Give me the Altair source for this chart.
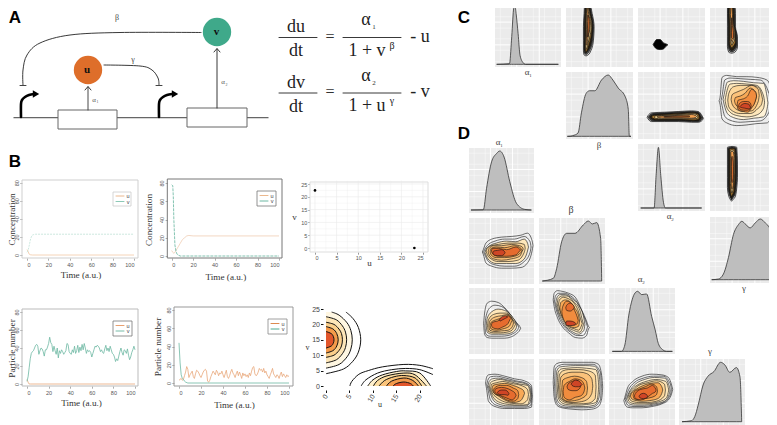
import altair as alt
import pandas as pd

M = 8
CX = alt.Scale(domain=[0, 777], range=[-M, 777 - M], nice=False, zero=False)
CY = alt.Scale(domain=[0, 425], range=[-M, 425 - M], nice=False, zero=False)
SERIF = "Liberation Serif"
SANS = "Liberation Sans"
layers = []

# ---------- time-course data ----------
B1_U_T = [0, 1, 2, 3, 5, 100]
B1_U = [6, 4, 1, 0.3, 0, 0]
B1_V_T = [0, 1, 2, 3, 4, 5, 6, 8, 100]
B1_V = [3, 5, 10, 16, 20, 22, 22.5, 23, 23]
B2_U_T = [0, 1, 2, 3, 4, 6, 8, 10, 12, 14, 16, 20, 100]
B2_U = [6, 4, 3, 4, 6, 10, 14, 18, 20, 22, 22.5, 22, 22]
B2_V_T = [0, 1, 1.5, 2, 3, 4, 5, 6, 8, 100]
B2_V = [78, 77, 65, 40, 12, 5, 2, 1, 0, 0]
B3_U = [0, 23]
B3_V = [22.5, 0]
B4_U_T = [0, 1, 2, 3, 100]
B4_U = [5, 2, 0, 0, 0]
B4_V = [3, 8, 18, 28, 34, 36, 37, 40, 43, 44, 42, 33, 37, 40, 39, 36, 31, 38, 38, 41, 45, 52, 46, 44, 36, 42,
        37, 33, 40, 29, 37, 34, 38, 36, 33, 35, 37, 45, 44, 36, 34, 33, 38, 35, 42, 34, 37, 43, 35, 41, 37, 44,
        38, 45, 40, 34, 38, 36, 37, 35, 30, 34, 38, 42, 41, 43, 42, 40, 36, 38, 35, 34, 39, 43, 37, 40, 36, 42,
        38, 34, 33, 30, 25, 28, 26, 31, 36, 40, 35, 32, 38, 37, 34, 39, 32, 27, 30, 35, 38, 42, 38]
B5_U = [3, 4, 5, 3, 4, 8, 12, 18, 15, 6, 9, 11, 13, 7, 5, 10, 14, 13, 11, 8, 6, 9, 12, 14, 15, 13, 2, 1, 3, 7,
        10, 13, 11, 9, 14, 12, 8, 11, 10, 13, 9, 6, 10, 14, 7, 5, 8, 12, 15, 11, 9, 6, 10, 13, 8, 12, 9, 5, 11,
        8, 10, 7, 9, 6, 11, 8, 13, 17, 18, 10, 8, 9, 12, 16, 14, 15, 12, 16, 11, 13, 9, 7, 5, 9, 12, 16, 10, 8,
        6, 9, 8, 5, 9, 12, 7, 10, 8, 6, 9, 7, 8]
B5_V_T = [0, 1, 2, 3, 4, 5, 6, 8, 100]
B5_V = [44, 22, 9, 5, 4, 2, 1, 0, 0]

# ---------- densities (percent of panel) ----------
D_C_A1 = ([2.5, 22, 25, 28, 30, 32, 35, 38, 43, 46, 96], [4, 5, 40, 85, 95, 80, 50, 17, 6, 4, 4])
D_C_B = ([2, 4.5, 10, 18, 23, 30, 35, 43, 53, 63, 70, 78, 88, 93, 94.5, 97],
         [4, 4, 5, 9, 39, 68, 72, 72, 88, 95.5, 88, 76, 64, 44, 4, 4])
D_C_A2 = ([4, 24, 27, 30.5, 34, 38, 41, 95], [4.5, 4.5, 53, 95, 53, 13, 4.5, 4.5])
D_C_G = ([2.5, 12.5, 20, 27.5, 35, 42.5, 47.5, 53.5, 60, 67.5, 75, 82.5, 90, 92.5, 94, 96],
         [5, 6, 13.5, 38.5, 73.5, 88.5, 93.5, 88.5, 83.5, 91, 97, 91, 81, 73, 5, 5])
D_D_A1 = ([3, 22, 27, 34.7, 42.3, 47.4, 54, 62.8, 73, 85.7, 96], [4.6, 5, 38, 78.7, 91.4, 95.4, 86, 48, 15, 5.6, 4.6])
D_D_B = ([5, 21.7, 26.8, 34.3, 42, 54.5, 67, 74.7, 80.8, 87.4, 93.4, 95],
         [4.5, 8.6, 23.7, 64, 76.8, 76.8, 89.4, 95.5, 91, 93, 69, 4.5])
D_D_A2 = ([5, 19, 24, 30, 35, 39.4, 43.4, 49.5, 57, 64.6, 70, 74.7, 82, 87, 96],
          [4, 4, 13.7, 59, 82, 92.4, 95, 90, 91, 57, 36.5, 16, 6, 4, 4])
D_D_G = ([4.6, 18.8, 24, 29, 36.5, 44, 53, 63, 69.5, 77, 87, 92.4, 95],
         [5, 6.5, 13, 30, 60.6, 74, 81, 95, 91, 79.8, 87, 73, 5])

# ---------- contour rings (t, low edge, high edge; percent of panel) ----------
C_A1_B = [
    ([18, 24, 40, 60, 80, 95], [27, 26, 26, 26, 27, 28], [33, 37, 41, 42, 39, 35]),
    ([20, 26, 42, 60, 80, 94], [28, 27, 27, 27, 28, 29], [32, 36, 40, 41, 38, 34.5]),
    ([22, 28, 45, 62, 80, 93], [28.5, 27.5, 28, 28, 28.5, 29.5], [31, 35, 39, 40, 37, 34]),
    ([24, 32, 48, 64, 80, 92], [29, 28.5, 29, 29, 29.5, 30], [31, 34, 38, 39, 36, 33.5]),
    ([28, 36, 52, 66, 80, 90], [29.5, 29.5, 30, 30, 30.5, 31], [31, 33, 37, 38, 35, 33]),
    ([34, 42, 56, 68, 78, 88], [30, 30.5, 31, 31, 31.5, 31.5], [31.5, 32.5, 35.5, 36.5, 34, 32.5]),
    ([46, 58, 68, 76], [32, 32, 32.5, 32.5], [33, 34.5, 35, 33.5]),
]
C_A1_A2 = [
    ([24, 28, 33, 38, 43], [31, 27, 26, 27, 32], [36, 41, 41, 36, 34]),
]
C_A1_G = [
    ([22, 30, 45, 60, 80, 95], [28, 26, 26, 26, 26, 26], [37, 41, 41, 38, 38, 37]),
    ([24, 32, 46, 62, 80, 94], [29, 27, 27, 27, 26.5, 27], [36, 40, 40, 37, 37, 36]),
    ([26, 34, 48, 64, 80, 93], [30, 28, 28, 28, 27.5, 28], [35, 39, 39, 36, 36, 35]),
    ([30, 38, 50, 66, 80, 92], [31, 29, 29, 29, 28.5, 29], [34, 38, 38, 35, 35, 34]),
    ([34, 42, 52, 68, 80, 90], [32, 30, 30, 30, 29.5, 30], [33.5, 37, 37, 34.5, 34, 33.5]),
    ([38, 46, 54, 68, 78, 88], [32.5, 31, 31, 31, 30.5, 31], [33.5, 36, 36, 34, 33.5, 33]),
    ([44, 52, 62, 72], [32, 32, 32, 32], [35, 35, 33.5, 33]),
]
C_B_A2 = [
    ([15, 20, 40, 60, 80, 90, 96], [30, 26, 26, 26, 25, 25, 28], [35, 39, 40, 41, 42, 41, 34]),
    ([17, 22, 40, 60, 80, 90, 95], [30, 27, 27, 27, 26, 26, 29], [35, 38, 39, 40, 41, 40, 34]),
    ([19, 25, 42, 62, 80, 90, 93], [30.5, 28, 28, 28, 27, 27, 29.5], [35, 37, 38, 39, 40, 39, 34]),
    ([22, 30, 45, 64, 82, 90], [31, 29, 29, 29, 28, 29], [35, 36, 37, 38, 39, 37]),
    ([26, 35, 50, 66, 82, 88], [31, 30, 30, 30, 30, 30.5], [34.5, 35, 36, 37, 38, 36]),
    ([30, 40, 54, 68, 80, 86], [32, 31, 31, 31, 31, 32], [34, 34.5, 35, 36, 36.5, 35]),
    ([40, 52, 64, 76], [32.5, 32.5, 32.5, 33], [33.5, 34, 34.5, 34.5]),
]
C_B_G = [
    ([15, 18, 25, 40, 55, 70, 85, 92], [52, 30, 24, 20, 21, 23, 24, 35], [62, 92, 95, 93, 93, 92, 88, 70]),
    ([18, 22, 30, 45, 60, 75, 88], [50, 34, 28, 25, 26, 27, 40], [64, 88, 91, 90, 89, 88, 68]),
    ([21, 26, 35, 50, 65, 80, 85], [52, 38, 32, 29, 31, 33, 44], [66, 85, 87, 86, 84, 83, 64]),
    ([24, 30, 40, 55, 70, 80], [50, 40, 35, 33, 36, 46], [66, 82, 83, 82, 80, 64]),
    ([28, 35, 45, 60, 72, 77], [48, 41, 38, 38, 46, 52], [68, 78, 80, 80, 77, 66]),
    ([33, 40, 50, 62, 72], [52, 44, 41, 42, 56], [66, 70, 74, 80, 74]),
    ([38, 45, 52, 60, 68], [52, 46, 44, 46, 58], [62, 64, 68, 76, 70]),
    ([42, 50, 56, 62, 68], [44, 41, 40, 46, 58], [58, 60, 64, 74, 70]),
    ([44, 50, 56, 60], [45, 43, 43, 45], [53, 56, 56, 54]),
    ([46, 52, 58, 60], [47, 46, 45, 46], [50, 53, 52, 48]),
]
C_A2_G = [
    ([16, 22, 35, 50, 70, 95], [31, 28, 26, 26, 26, 26], [33.5, 38, 40, 41, 41, 40]),
    ([18, 24, 36, 52, 72, 94], [31.5, 29, 27, 27, 27, 27], [33, 37, 39, 40, 40, 39]),
    ([20, 26, 38, 54, 74, 93], [31.5, 29.5, 28, 28, 28, 28], [33, 36.5, 38, 39, 39, 38]),
    ([23, 30, 42, 56, 76, 92], [31.5, 30, 29, 29, 29, 29], [33, 36, 37, 38, 38, 37]),
    ([28, 36, 46, 58, 78, 90], [32, 31, 30, 30, 30, 30], [33.5, 35, 36, 37, 37, 36]),
    ([34, 42, 50, 60, 78, 88], [32, 31.5, 31, 31, 31, 31], [34, 35, 35.5, 36, 36, 35]),
    ([44, 54, 66, 80], [32, 32, 32, 32], [34, 35, 35, 34]),
]
D_B_A1 = [
    ([22, 26, 35, 50, 65, 80, 90, 97], [45, 32, 27, 24, 24, 25, 32, 50], [52, 62, 68, 71, 72, 74, 77, 66]),
    ([24, 30, 40, 55, 70, 85, 94], [45, 34, 29, 27, 27, 34, 48], [52, 60, 65, 68, 68, 72, 64]),
    ([26, 32, 42, 58, 72, 85, 90], [44, 35, 31, 31, 31, 38, 50], [52, 58, 62, 65, 64, 68, 62]),
    ([28, 34, 45, 60, 75, 85], [45, 38, 34, 34, 36, 48], [54, 58, 60, 62, 62, 60]),
    ([31, 38, 50, 65, 78, 82], [44, 38, 36, 38, 42, 50], [54, 58, 58, 60, 58, 56]),
    ([34, 42, 55, 70, 80], [44, 40, 40, 42, 48], [54, 56, 55, 58, 54]),
    ([36, 45, 58, 72, 78], [46, 42, 42, 44, 50], [54, 54, 52, 56, 53]),
    ([38, 44, 50, 54], [44, 43, 43, 45], [50, 51, 52, 50]),
]
D_A2_A1 = [
    ([24, 28, 35, 45, 55, 65, 72, 78], [30, 25, 24, 24, 24, 26, 30, 36], [62, 77, 80, 78, 70, 58, 48, 42]),
    ([26, 32, 40, 50, 60, 68, 75], [30, 27, 27, 27, 28, 31, 37], [56, 70, 74, 72, 64, 54, 44]),
    ([28, 35, 45, 55, 65, 72], [33, 30, 30, 30, 32, 38], [54, 64, 68, 66, 58, 47]),
    ([30, 38, 48, 58, 66, 70], [34, 32, 32, 33, 36, 42], [52, 60, 62, 62, 54, 48]),
    ([32, 40, 50, 60, 67], [36, 34, 35, 36, 42], [50, 56, 58, 60, 52]),
    ([34, 42, 52, 62, 65], [38, 36, 38, 42, 48], [48, 52, 55, 58, 54]),
    ([36, 44, 52, 60, 63], [40, 38, 41, 46, 52], [48, 50, 54, 58, 56]),
    ([48, 52, 56, 58], [50, 52, 54, 55], [54, 57, 58, 57]),
]
D_A2_B = [
    ([23, 28, 35, 45, 55, 65, 72, 75], [72, 55, 42, 32, 25, 24, 28, 38], [92, 96, 95, 92, 86, 66, 50, 42]),
    ([25, 30, 38, 48, 58, 66, 72], [72, 56, 42, 33, 28, 28, 36], [88, 92, 92, 88, 78, 62, 46]),
    ([27, 32, 40, 50, 60, 68], [70, 56, 42, 34, 30, 36], [85, 90, 90, 84, 74, 54]),
    ([29, 35, 42, 52, 62, 66], [68, 54, 42, 36, 33, 40], [84, 88, 88, 80, 66, 50]),
    ([31, 37, 44, 54, 60, 64], [68, 54, 42, 38, 36, 42], [82, 86, 84, 76, 64, 50]),
    ([33, 40, 46, 54, 60], [62, 50, 42, 40, 42], [78, 82, 80, 70, 58]),
    ([36, 42, 48, 54, 58], [56, 46, 44, 44, 46], [72, 80, 78, 66, 56]),
    ([42, 47, 52], [66, 65, 68], [74, 77, 74]),
    ([42, 47, 54], [43, 43, 44], [50, 50, 48]),
]
D_G_A1 = [
    ([27, 30, 40, 55, 70, 85, 96], [55, 36, 28, 25, 25, 25, 27], [72, 76, 77, 74, 70, 67, 60]),
    ([29, 33, 42, 57, 72, 86, 95], [55, 38, 30, 27, 27, 27, 30], [68, 73, 74, 71, 67, 64, 58]),
    ([31, 36, 45, 60, 75, 88, 94], [54, 40, 32, 29, 29, 29, 34], [66, 70, 71, 68, 65, 62, 56]),
    ([33, 38, 48, 62, 78, 90, 93], [52, 41, 34, 31, 30, 31, 38], [64, 67, 69, 66, 62, 60, 54]),
    ([35, 42, 52, 65, 80, 90], [50, 42, 36, 33, 32, 38], [62, 64, 66, 63, 60, 54]),
    ([37, 45, 55, 68, 78, 84], [50, 44, 38, 34, 36, 44], [60, 62, 63, 60, 56, 52]),
    ([39, 48, 58, 68, 75], [48, 44, 38, 36, 40], [56, 60, 60, 56, 52]),
    ([41, 50, 60, 66, 71], [48, 44, 40, 38, 42], [55, 57, 55, 52, 48]),
    ([45, 50, 55, 60], [47, 46, 46, 45], [51, 53, 53, 50]),
]
D_G_B = [
    ([23, 27, 35, 50, 65, 80, 90, 95], [42, 30, 26, 24, 23, 24, 28, 40], [88, 93, 95, 95, 95, 95, 92, 75]),
    ([25, 30, 38, 52, 68, 82, 93], [40, 30, 27, 26, 26, 27, 38], [85, 90, 92, 92, 92, 92, 80]),
    ([27, 32, 40, 55, 70, 84, 91], [40, 32, 29, 28, 28, 30, 42], [82, 88, 89, 90, 90, 89, 78]),
    ([29, 34, 42, 58, 72, 86, 89], [42, 34, 31, 30, 31, 34, 42], [80, 85, 86, 87, 86, 84, 76]),
    ([31, 36, 45, 60, 75, 85], [42, 36, 33, 32, 33, 40], [76, 82, 84, 84, 82, 76]),
    ([33, 40, 50, 62, 72, 80], [42, 36, 34, 35, 38, 48], [72, 78, 80, 80, 78, 70]),
    ([36, 44, 54, 64, 72], [40, 36, 37, 40, 46], [68, 72, 74, 72, 66]),
    ([38, 46, 55, 63, 68], [42, 38, 42, 44, 50], [60, 66, 70, 68, 62]),
    ([44, 50, 56, 62], [54, 52, 52, 56], [62, 66, 68, 64]),
    ([50, 55, 60, 64], [60, 58, 58, 60], [64, 68, 67, 63]),
]
D_G_A2 = [
    ([24, 28, 36, 50, 65, 80, 90, 95], [32, 27, 26, 26, 28, 32, 38, 48], [42, 56, 66, 74, 77, 76, 72, 60]),
    ([26, 30, 38, 52, 67, 82, 93], [34, 29, 28, 28, 30, 34, 46], [44, 54, 64, 71, 74, 74, 62]),
    ([28, 33, 40, 54, 69, 84, 91], [35, 31, 30, 30, 32, 36, 46], [44, 54, 62, 69, 72, 71, 60]),
    ([30, 35, 42, 56, 71, 86, 89], [36, 33, 32, 32, 34, 40, 46], [46, 54, 60, 66, 69, 66, 60]),
    ([32, 38, 45, 58, 72, 84], [38, 35, 34, 34, 36, 44], [46, 54, 60, 64, 67, 62]),
    ([34, 41, 50, 62, 74, 80], [40, 37, 36, 37, 40, 48], [48, 54, 59, 63, 64, 58]),
    ([38, 45, 55, 65, 72], [40, 38, 40, 42, 46], [50, 54, 58, 62, 58]),
    ([40, 48, 58, 66, 70], [40, 38, 42, 48, 50], [48, 54, 56, 60, 56]),
    ([47, 52, 57], [41, 40, 41], [46, 48, 46]),
]
# B6: u and v units
B6_LEFT = [
    ([4, 5.5, 8, 11, 15, 19, 22, 24], [0, 3.7, 5.7, 6.9, 7.4, 6.9, 5.7, 4.25]),
    ([5.8, 7, 9.5, 12, 15, 18, 20.5, 23, 24], [0, 2.8, 4.5, 5.3, 5.6, 5.3, 4.5, 2.8, 1.2]),
    ([7.5, 8.5, 10.5, 12.5, 15, 17.5, 19.5, 21.5, 22.5], [0, 2.2, 3.5, 4.15, 4.4, 4.15, 3.5, 2.2, 0]),
    ([9.3, 10, 11.5, 13, 15, 17, 18.5, 20, 20.7], [0, 1.7, 2.76, 3.3, 3.5, 3.3, 2.76, 1.7, 0]),
    ([10.7, 11.5, 13, 15, 17, 18.5, 19.3], [0, 1.5, 2.3, 2.6, 2.3, 1.5, 0]),
    ([12.3, 13, 14, 15, 16, 17, 17.7], [0, 1.14, 1.58, 1.7, 1.58, 1.14, 0]),
]
B6_RIGHT = [
    ([5.1, 5.5, 7, 9, 12, 16.6, 20, 22.8], [0, 1.5, 3.8, 5, 6.2, 7, 6.7, 5.6]),
    ([7.5, 8.5, 11, 14, 17, 20, 22.8], [0, 2, 4.2, 5.3, 5.7, 5.3, 3.7]),
    ([8.9, 10, 12, 15, 17, 20, 22.3], [0, 2, 3.6, 4.7, 4.9, 4.2, 0]),
    ([10.1, 11, 13, 16.6, 19, 21.4], [0, 1.8, 3.3, 4.2, 3.6, 0]),
    ([11.3, 12.5, 14.5, 16.6, 19, 20.4], [0, 1.8, 3, 3.4, 2.6, 0]),
    ([12.9, 14, 16.6, 18.5, 19.7], [0, 1.6, 2.6, 1.8, 0]),
    ([14.3, 15, 16.6, 18, 18.6], [0, 0.8, 1.3, 0.8, 0]),
]
PALETTE = ["transparent", "transparent", "#FFF3D8", "#FEE7BA", "#FDD79A", "#FBC27A", "#F8A956", "#F18C3E", "#E66B2E", "#CF4526"]
NARROW = ["#CCCCCC", "#555555", "#2A2010", "#A87830", "#F5D590", "#F2A050", "#D97030"]
B6_PAL_L = ["transparent", "#FFF7E2", "#FDE6B8", "#FBCF8B", "#F59B4A", "#E2562B"]
B6_PAL_R = ["transparent", "transparent", "#FFF0CC", "#FDDDA0", "#FBC47A", "#F39A4C", "#E2562B"]
X_TICKS = [0, 20, 40, 60, 80, 100]
Y_TICKS = [0, 20, 40, 60, 80]
CLOSE_GAP = 1.5


def cs(lo, hi, r0, r1):
    return alt.Scale(domain=[lo, hi], range=[r0 - M, r1 - M], nice=False, zero=False)


def xy(box, dom=(0, 100, 0, 100)):
    x0, x1, yt, yb = box
    return cs(dom[0], dom[1], x0, x1), cs(dom[2], dom[3], yb, yt)


def c_line(xs, ys, color="#222", width=1.0, interp="linear", dash=None, opacity=1.0):
    kw = dict(color=color, strokeWidth=width, interpolate=interp, opacity=opacity, strokeCap="round")
    if dash:
        kw["strokeDash"] = dash
    df = pd.DataFrame({"x": xs, "y": ys, "i": range(len(xs))})
    layers.append(alt.Chart(df).mark_line(**kw).encode(
        x=alt.X("x:Q", scale=CX, axis=None), y=alt.Y("y:Q", scale=CY, axis=None), order="i:Q"))


def c_rect(x0, x1, y0, y1, fill="white", stroke="#777", width=1.0):
    df = pd.DataFrame({"x": [x0], "x2": [x1], "y": [y0], "y2": [y1]})
    layers.append(alt.Chart(df).mark_rect(fill=fill, stroke=stroke, strokeWidth=width).encode(
        x=alt.X("x:Q", scale=CX, axis=None), x2="x2:Q", y=alt.Y("y:Q", scale=CY, axis=None), y2="y2:Q"))


def c_text(s, x, y, size=10, font=SERIF, color="#222", weight="normal", angle=0):
    df = pd.DataFrame({"x": [x], "y": [y]})
    layers.append(alt.Chart(df).mark_text(text=s, fontSize=size, font=font, color=color, fontWeight=weight,
                                          angle=angle, align="center", baseline="middle").encode(
        x=alt.X("x:Q", scale=CX, axis=None), y=alt.Y("y:Q", scale=CY, axis=None)))


def c_circle(x, y, r, color):
    df = pd.DataFrame({"x": [x], "y": [y]})
    layers.append(alt.Chart(df).mark_point(filled=True, size=3.14159 * r * r, color=color, opacity=1).encode(
        x=alt.X("x:Q", scale=CX, axis=None), y=alt.Y("y:Q", scale=CY, axis=None)))


def c_tri(x, y, size):
    df = pd.DataFrame({"x": [x], "y": [y]})
    layers.append(alt.Chart(df).mark_point(filled=True, size=size, color="black", opacity=1, shape="triangle-right").encode(
        x=alt.X("x:Q", scale=CX, axis=None), y=alt.Y("y:Q", scale=CY, axis=None)))


AX = dict(labelFontSize=5.5, labelColor="#555", labelFont=SANS, tickColor="#777", tickSize=2.2, tickWidth=0.6,
          domain=False, grid=False, titleFont=SERIF, titleFontWeight="normal", titleColor="#333", titleBaseline="middle")


def trace_panel(box, xr, yr, frame, ylabel, title_x, title_y, u, v, ucol, vcol, vdash=None, uw=0.8, vw=0.8):
    """box=frame px; xr=(px of 0, px of 100); yr=(px of 0, px of 80)"""
    sx = cs(0, 100, xr[0], xr[1])
    sy = cs(0, 80, yr[0], yr[1])
    axx = alt.Axis(orient="bottom", offset=-(425 - box[3]), values=X_TICKS, title="Time (a.u.)", titleFontSize=9.2,
                   titleY=title_y, labelPadding=2, labelAngle=0, **AX)
    axy = alt.Axis(orient="left", offset=-(box[0] - M), values=Y_TICKS, title=ylabel, titleFontSize=9.2, titleX=title_x,
                   labelPadding=0.5, labelAngle=-90, labelAlign="center", labelBaseline="bottom", **AX)
    first = True
    for (ts, vals, col, w, dash) in [(u[0], u[1], ucol, uw, None), (v[0], v[1], vcol, vw, vdash)]:
        kw = dict(color=col, strokeWidth=w)
        if dash:
            kw["strokeDash"] = dash
        df = pd.DataFrame({"t": ts, "val": vals})
        layers.append(alt.Chart(df).mark_line(**kw).encode(
            x=alt.X("t:Q", scale=sx, axis=axx if first else None),
            y=alt.Y("val:Q", scale=sy, axis=axy if first else None)))
        first = False
    c_rect(box[0], box[1], box[2], box[3], fill="transparent", stroke=frame, width=1)


def legend(x0, x1, y0, y1, ucol, vcol, frame):
    c_rect(x0, x1, y0, y1, fill="white", stroke=frame, width=0.8)
    midy = (y0 + y1) / 2
    c_line([x0 + 3, x0 + 11], [midy - 3, midy - 3], ucol, 1)
    c_line([x0 + 3, x0 + 11], [midy + 2.5, midy + 2.5], vcol, 1)
    c_text("u", x0 + 15, midy - 3, size=5.5, font=SANS, color="#444")
    c_text("v", x0 + 15, midy + 2.5, size=5.5, font=SANS, color="#444")


def bg(box):
    sx, sy = xy(box)
    df = pd.DataFrame({"a": [0], "b": [100], "c": [0], "d": [100]})
    layers.append(alt.Chart(df).mark_rect(fill="#EBEBEB").encode(
        x=alt.X("a:Q", scale=sx, axis=None), x2="b:Q", y=alt.Y("c:Q", scale=sy, axis=None), y2="d:Q"))
    for vals, w in (([8, 25, 42, 58, 75, 92], 0.4), ([33, 67], 1.0)):
        d1 = pd.DataFrame({"p": vals, "a": [0] * len(vals), "b": [100] * len(vals)})
        layers.append(alt.Chart(d1).mark_rule(color="white", strokeWidth=w).encode(
            x=alt.X("p:Q", scale=sx, axis=None), y=alt.Y("a:Q", scale=sy, axis=None), y2="b:Q"))
        layers.append(alt.Chart(d1).mark_rule(color="white", strokeWidth=w).encode(
            y=alt.Y("p:Q", scale=sy, axis=None), x=alt.X("a:Q", scale=sx, axis=None), x2="b:Q"))


def density(box, d):
    bg(box)
    sx, sy = xy(box)
    df = pd.DataFrame({"x": d[0], "y": d[1], "b": [min(d[1])] * len(d[0])})
    layers.append(alt.Chart(df).mark_area(fill="#BEBEBE", stroke="#333", strokeWidth=0.8, interpolate="monotone").encode(
        x=alt.X("x:Q", scale=sx, axis=None), y=alt.Y("y:Q", scale=sy, axis=None), y2="b:Q"))


def ring_frame(rings, pal=None, close=False):
    rows = []
    n = len(rings)
    for i, (t, lo, hi) in enumerate(rings):
        if pal is not None:
            col = pal[round(i * (len(pal) - 1) / (n - 1))] if n > 1 else "black"
        else:
            col = PALETTE[round(i * 9 / (n - 1))] if n > 1 else "black"
        pts = list(zip(t, lo, hi))
        if close:
            m0 = (lo[0] + hi[0]) / 2
            m1 = (lo[-1] + hi[-1]) / 2
            pts = [(t[0] - CLOSE_GAP, m0, m0)] + pts + [(t[-1] + CLOSE_GAP, m1, m1)]
        for a, b, c in pts:
            rows.append({"t": a, "lo": b, "hi": c, "ring": i, "fill": col})
    return pd.DataFrame(rows)


def contour(box, rings, orient="vertical", sw=0.6, pal=None):
    bg(box)
    sx, sy = xy(box)
    df = ring_frame(rings, pal, close=True)
    m = alt.Chart(df).mark_area(orient=orient, interpolate="monotone", stroke="#111", strokeWidth=sw)
    if orient == "vertical":
        enc = dict(x=alt.X("t:Q", scale=sx, axis=None), y=alt.Y("lo:Q", scale=sy, axis=None), y2="hi:Q")
    else:
        enc = dict(y=alt.Y("t:Q", scale=sy, axis=None), x=alt.X("lo:Q", scale=sx, axis=None), x2="hi:Q")
    layers.append(m.encode(detail="ring:N", fill=alt.Fill("fill:N", scale=None), **enc))


# ================= A: diagram =================
c_text("A", 15, 18, size=17, font=SANS, weight="bold", color="black")
c_line([14, 268], [117.7, 117.7], "#666", 1.3)
c_rect(58, 117, 110, 129, stroke="#666", width=1)
c_rect(187, 247, 108, 127, stroke="#666", width=1)
c_line([88, 88], [110, 87], "#333", 0.9)
c_line([85, 88, 91], [90, 86.5, 90], "#222", 0.9)
c_line([217, 217], [108, 49], "#222", 0.9)
c_line([214, 217, 220], [52, 48.5, 52], "#222", 0.9)
c_line([201, 120, 70, 40, 27, 23, 23], [32.5, 32.5, 35, 43, 55, 70, 85], "#222", 0.9, "cardinal")
c_line([20, 26], [85.5, 85.5], "#444", 1)
c_line([104, 140, 152, 158, 159], [65, 66, 70, 78, 85], "#222", 0.9, "cardinal")
c_line([156, 162], [85.5, 85.5], "#444", 1)
c_circle(88, 70, 16, "#DE6E2A")
c_circle(217, 32, 16, "#3FA98A")
c_text("u", 87, 70, size=11, weight="bold", color="#111")
c_text("v", 216.5, 32, size=11, weight="bold", color="#111")
c_text("β", 117, 18, size=8, color="#444")
c_text("γ", 133, 60, size=8, color="#444")
c_text("α", 94, 99.5, size=7, color="#555")
c_text("1", 97.5, 102, size=4, color="#555")
c_text("α", 223, 82, size=7, color="#555")
c_text("2", 226.5, 84.5, size=4, color="#555")
c_line([21, 21, 22, 25, 29, 34], [117, 104, 100, 97, 95, 94], "black", 2.6, "cardinal")
c_tri(36, 94, 55)
c_line([159, 159, 160, 163, 167, 172], [117, 104, 100, 97, 95, 94], "black", 2.6, "cardinal")
c_tri(175, 94, 55)
# equations
for yf, t1, t2, top, sub, den, sup, tail in [(37.5, "du", "dt", 20, "1", "1 + v", "β", "- u"), (93, "dv", "dt", 75.5, "2", "1 + u", "γ", "- v")]:
    c_line([279, 317], [yf, yf], "#222", 0.9)
    c_line([343, 401], [yf, yf], "#222", 0.9)
    c_text(t1, 296, yf - 10.5, size=18, color="#222")
    c_text(t2, 296, yf + 13.5, size=18, color="#222")
    c_text("=", 330, yf - 1, size=16, color="#333")
    c_text("α", 366, top, size=18, color="#222")
    c_text(sub, 374, top + 7, size=7, color="#333")
    c_text(den, 367, yf + 13, size=18, color="#222")
    c_text(sup, 392, yf + 8, size=10, color="#222")
    c_text(tail, 420, yf - 1, size=18, color="#222")

# ================= B: panels =================
c_text("B", 15, 162, size=17, font=SANS, weight="bold", color="black")
UL, VL = "#F3C9A6", "#BFE2D7"
trace_panel((22, 138, 180, 258), (27, 134), (255, 182.7), "#CFCFCF", "Concentration", -10.5, 16, (B1_U_T, B1_U), (B1_V_T, B1_V), UL, VL, vdash=[2, 1])
legend(113, 131, 192, 206, "#EBB88E", "#8CC9B6", "#CCCCCC")
trace_panel((167.3, 282, 179, 258), (171.7, 279), (256, 183), "#777777", "Concentration", -19.3, 18, (B2_U_T, B2_U), (B2_V_T, B2_V), "#F0CDB4", "#63B49D", vdash=[3, 1])
legend(257, 276, 191, 206, "#EBB88E", "#6DB8A3", "#777777")
trace_panel((22, 138, 309, 386), (27, 135), (384, 312), "#BBBBBB", "Particle number", -10.5, 16, (B4_U_T, B4_U), (list(range(len(B4_V))), B4_V), "#E9A77A", "#6CB7A2")
legend(113, 132, 321, 336, "#E8A070", "#76BBA7", "#777777")
trace_panel((174, 293, 307, 386), (179, 289), (383, 310), "#999999", "Particle number", -17, 18, (list(range(len(B5_U))), B5_U), (B5_V_T, B5_V), "#E9A77A", "#6CB7A2")
legend(268, 287, 319, 334, "#DD8A50", "#4FA88F", "#888888")

# B3 phase
B3 = (310, 428, 182, 252)
c_rect(*B3, fill="white", stroke="#DDDDDD", width=1)
sx3 = cs(0, 25, 315, 423)
sy3 = cs(0, 25, 248, 184)
for vals, w in (([2.5, 7.5, 12.5, 17.5, 22.5], 0.3), ([0, 5, 10, 15, 20, 25], 0.6)):
    d1 = pd.DataFrame({"p": vals, "a": [-1.2] * len(vals), "b": [26.3] * len(vals)})
    layers.append(alt.Chart(d1).mark_rule(color="#EAEAEA", strokeWidth=w).encode(
        x=alt.X("p:Q", scale=sx3, axis=None), y=alt.Y("a:Q", scale=sy3, axis=None), y2="b:Q"))
    layers.append(alt.Chart(d1).mark_rule(color="#EAEAEA", strokeWidth=w).encode(
        y=alt.Y("p:Q", scale=sy3, axis=None), x=alt.X("a:Q", scale=sx3, axis=None), x2="b:Q"))
AX3 = dict(AX)
AX3.update(titleFontSize=9, tickColor="#555")
layers.append(alt.Chart(pd.DataFrame({"u": B3_U, "v": B3_V})).mark_point(filled=True, size=7, color="black", opacity=1).encode(
    x=alt.X("u:Q", scale=sx3, axis=alt.Axis(orient="bottom", offset=-(425 - 252), values=[0, 5, 10, 15, 20, 25], title="u", titleY=10, labelPadding=1, **AX3)),
    y=alt.Y("v:Q", scale=sy3, axis=alt.Axis(orient="left", offset=-(310 - M), values=[0, 5, 10, 15, 20, 25], title="v", titleAngle=0, titleX=-16, labelPadding=1, **AX3))))

# B6 contours
sx6 = cs(0, 22.8, 326, 433)
sy6 = cs(0, 25, 386, 309)
AX6 = dict(AX)
AX6.update(labelFontSize=7, tickColor="#111", tickWidth=1, tickSize=2.5, titleFontSize=8, labelColor="#444")
ldf = ring_frame([(t, [0] * len(t), b) for t, b in B6_LEFT], B6_PAL_L)
rdf = ring_frame([(t, [0] * len(t), b) for t, b in B6_RIGHT], B6_PAL_R)
layers.append(alt.Chart(ldf).mark_area(orient="horizontal", interpolate="cardinal").encode(
    y=alt.Y("t:Q", scale=sy6, axis=alt.Axis(orient="left", offset=-(326 - M) + 3, values=[0, 5, 10, 15, 20, 25], title="v", titleAngle=0, titleX=-16, labelPadding=1, **AX6)),
    x=alt.X("lo:Q", scale=sx6, axis=alt.Axis(orient="bottom", offset=-(425 - 386) + 4, values=[0, 5, 10, 15, 20], title="u", titleY=14, labelAngle=-60, labelAlign="right", labelBaseline="middle", labelPadding=2, **AX6)),
    x2="hi:Q", detail="ring:N", fill=alt.Fill("fill:N", scale=None)))
layers.append(alt.Chart(ldf).mark_line(interpolate="cardinal", color="#111", strokeWidth=1).encode(
    y=alt.Y("t:Q", scale=sy6, axis=None), x=alt.X("hi:Q", scale=sx6, axis=None), detail="ring:N", order="t:Q"))
layers.append(alt.Chart(rdf).mark_area(interpolate="cardinal").encode(
    x=alt.X("t:Q", scale=sx6, axis=None), y=alt.Y("lo:Q", scale=sy6, axis=None), y2="hi:Q", detail="ring:N", fill=alt.Fill("fill:N", scale=None)))
layers.append(alt.Chart(rdf).mark_line(interpolate="cardinal", color="#111", strokeWidth=1).encode(
    x=alt.X("t:Q", scale=sx6, axis=None), y=alt.Y("hi:Q", scale=sy6, axis=None), detail="ring:N", order="t:Q"))

# ================= C matrix =================
c_text("C", 464, 18, size=17, font=SANS, weight="bold", color="black")
c_text("D", 464, 134, size=17, font=SANS, weight="bold", color="black")
density((495, 561, 0, 67), D_C_A1)
contour((566, 633, 0, 67), C_A1_B, "horizontal", 0.7, NARROW)
contour((638, 705, 0, 67), C_A1_A2, "vertical", 0.8)
contour((710, 777, 0, 67), C_A1_G, "horizontal", 0.7, NARROW)
density((566, 633, 72, 139), D_C_B)
contour((638, 705, 72, 139), C_B_A2, "vertical", 0.7, NARROW)
contour((710, 777, 72, 139), C_B_G)
density((638, 705, 144, 211), D_C_A2)
contour((710, 777, 144, 211), C_A2_G, "horizontal", 0.7, NARROW)
density((710, 777, 217, 283), D_C_G)
c_text("α", 527, 72, size=9, color="#444")
c_text("1", 530.5, 75, size=5, color="#444")
c_text("β", 599, 145, size=9, color="#444")
c_text("α", 669, 216, size=9, color="#444")
c_text("2", 672.5, 219, size=5, color="#444")
c_text("γ", 744, 288, size=9, color="#444")

# ================= D matrix =================
COLS = [(469, 534), (539, 605), (609, 675), (679, 745)]
ROWS = [(148, 213), (218, 284), (288, 354), (359, 425)]


def cell(r, c):
    return (COLS[c][0], COLS[c][1], ROWS[r][0], ROWS[r][1])


density(cell(0, 0), D_D_A1)
contour(cell(1, 0), D_B_A1)
density(cell(1, 1), D_D_B)
contour(cell(2, 0), D_A2_A1)
contour(cell(2, 1), D_A2_B)
density(cell(2, 2), D_D_A2)
contour(cell(3, 0), D_G_A1)
contour(cell(3, 1), D_G_B)
contour(cell(3, 2), D_G_A2)
density(cell(3, 3), D_D_G)
c_text("α", 498, 142, size=9, color="#444")
c_text("1", 501.5, 145, size=5, color="#444")
c_text("β", 571, 210, size=10, color="#444")
c_text("α", 640, 279, size=9, color="#444")
c_text("2", 643.5, 282, size=5, color="#444")
c_text("γ", 710, 351, size=9, color="#444")

chart = alt.layer(*layers).resolve_scale(x="independent", y="independent").resolve_axis(x="independent", y="independent").properties(
    width=761, height=417, padding=0, autosize=alt.AutoSizeParams(type="none"), background="white"
).configure_view(stroke=None)
chart.save("out.html", embed_options={"renderer": "svg", "actions": False})
